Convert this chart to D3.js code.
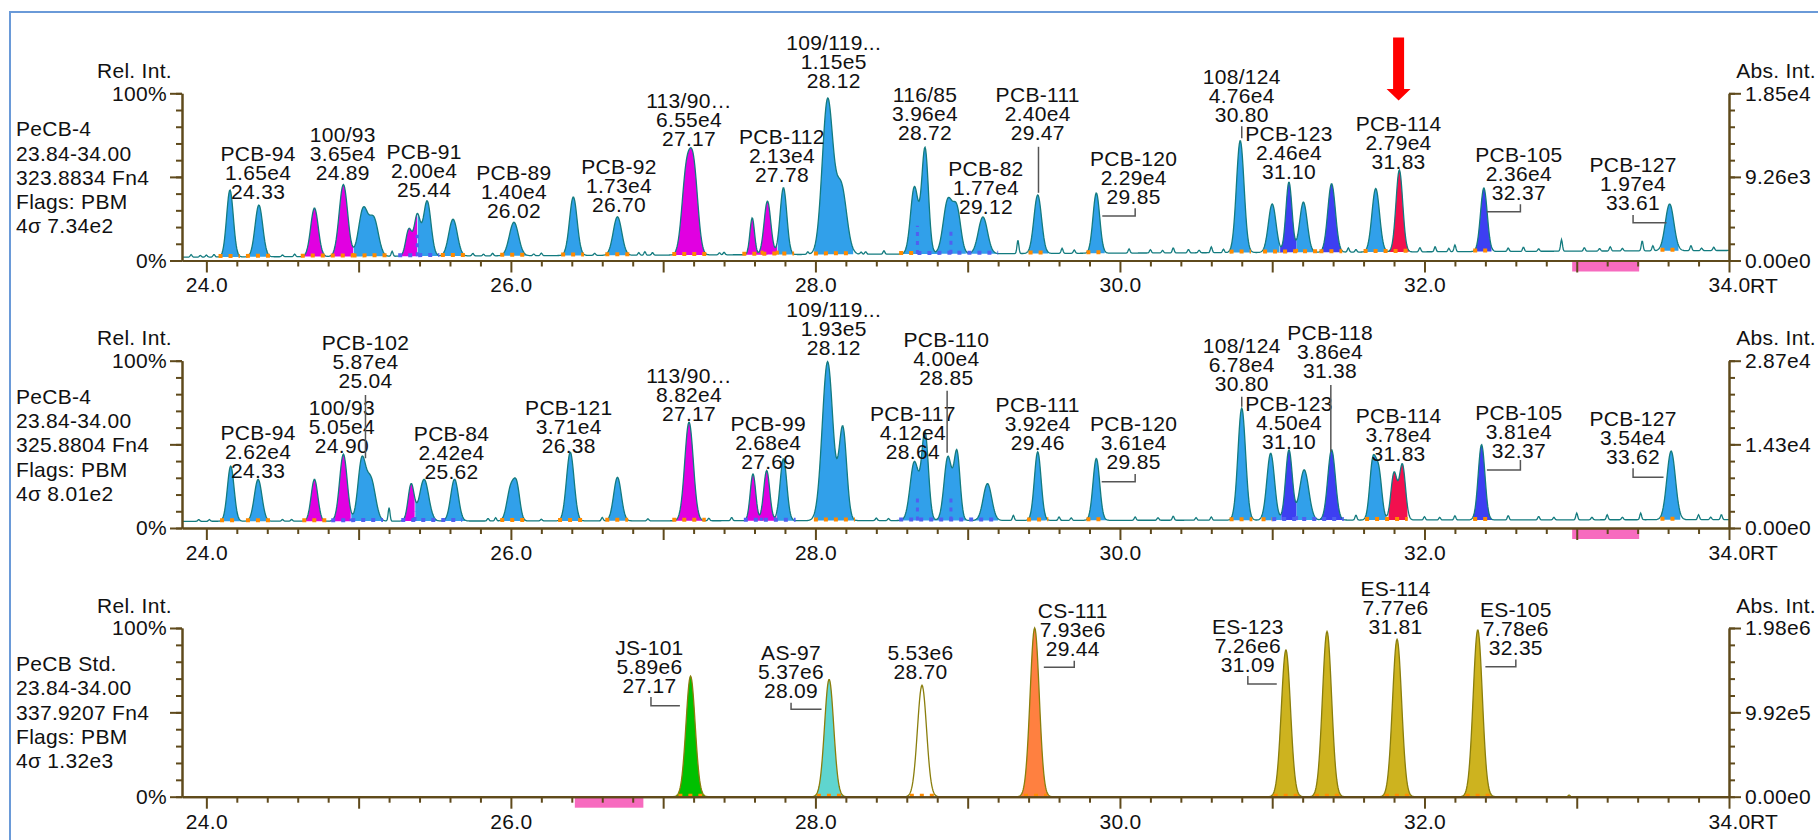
<!DOCTYPE html>
<html>
<head>
<meta charset="utf-8">
<script src="https://cdn.jsdelivr.net/npm/d3@7"></script>
<style>
	body { margin: 0; background: #fff; }
	svg text { font-family: "Liberation Sans", Arial, sans-serif; font-size: 21px; letter-spacing: 0.3px; fill: #111; }
</style>
</head>
<body>
<svg id="chart" width="1818" height="840"></svg>
<script>
// ---- data ----
const rtDomain = [23.84, 34.00];
const xTickLabels = ["24.0", "26.0", "28.0", "30.0", "32.0", "34.0"];
const arrowRt = 31.83;

const info1 = ["PeCB-4", "23.84-34.00", "323.8834 Fn4", "Flags: PBM", "4σ 7.34e2"];
const info2 = ["PeCB-4", "23.84-34.00", "325.8804 Fn4", "Flags: PBM", "4σ 8.01e2"];
const info3 = ["PeCB Std.", "23.84-34.00", "337.9207 Fn4", "Flags: PBM", "4σ 1.32e3"];

const abs1 = ["0.00e0", "9.26e3", "1.85e4"];
const abs2 = ["0.00e0", "1.43e4", "2.87e4"];
const abs3 = ["0.00e0", "9.92e5", "1.98e6"];

// baseline level (%) at start / end of run
const base1 = [2, 6];
const base2 = [4, 5];
const base3 = [0, 0];

// peaks: [rt, height %, width]
const peaks1 = [
	[24.155, 40, 0.022], [24.345, 31, 0.025], [24.71, 29, 0.025], [24.90, 43, 0.028],
	[25.03, 28, 0.03], [25.10, 22, 0.03], [25.33, 16, 0.02], [25.385, 24, 0.02],
	[25.45, 33, 0.025], [25.62, 22, 0.028], [26.02, 20, 0.03], [26.41, 35, 0.025],
	[26.70, 23, 0.028], [27.15, 45, 0.028], [27.20, 50, 0.028], [27.585, 22, 0.015],
	[27.685, 32, 0.022], [27.79, 40, 0.022], [28.08, 92, 0.035], [28.17, 40, 0.035],
	[28.65, 40, 0.025], [28.72, 63, 0.022], [28.87, 32, 0.03], [28.93, 25, 0.025],
	[29.10, 22, 0.03], [29.46, 35, 0.025], [29.845, 36, 0.022], [30.79, 67, 0.025],
	[31.00, 29, 0.025], [31.11, 42, 0.02], [31.205, 30, 0.025], [31.39, 41, 0.025],
	[31.68, 38, 0.025], [31.835, 49, 0.022], [32.39, 38, 0.022], [33.61, 28, 0.028]
];
const peaks2 = [
	[24.16, 33, 0.022], [24.34, 25, 0.025], [24.71, 25, 0.022], [24.90, 40, 0.025],
	[25.02, 35, 0.025], [25.08, 25, 0.03], [25.345, 22, 0.02], [25.43, 25, 0.03],
	[25.63, 25, 0.025], [26.00, 20, 0.025], [26.04, 18, 0.02], [26.39, 41, 0.025],
	[26.70, 26, 0.025], [27.17, 59, 0.028], [27.59, 28, 0.018], [27.68, 30, 0.02],
	[27.79, 37, 0.022], [28.08, 95, 0.035], [28.18, 55, 0.025], [28.65, 35, 0.028],
	[28.72, 52, 0.022], [28.87, 38, 0.025], [28.93, 40, 0.02], [29.13, 22, 0.028],
	[29.46, 41, 0.022], [29.845, 37, 0.022], [30.80, 67, 0.025], [30.99, 40, 0.025],
	[31.11, 42, 0.022], [31.21, 30, 0.03], [31.39, 42, 0.025], [31.66, 34, 0.02],
	[31.70, 28, 0.02], [31.80, 28, 0.02], [31.855, 33, 0.02], [32.375, 45, 0.022],
	[33.62, 41, 0.028]
];
const peaks3 = [
	[27.18, 71.5, 0.03], [28.09, 69.6, 0.03], [28.70, 66, 0.03], [29.44, 100, 0.03],
	[31.09, 87, 0.03], [31.36, 98, 0.03], [31.82, 93.3, 0.03], [32.35, 99, 0.03]
];

// baseline noise spikes: [rt, height %]
const spikes1 = [
	[23.9, 1.5], [23.96, 1], [24.0, 1.2], [24.05, 1.5], [24.5, 1], [24.58, 1.5], [25.22, 3],
	[25.75, 1.5], [25.82, 1], [25.88, 1.5], [26.15, 1], [26.2, 1.5], [26.55, 1.2], [26.84, 1.5],
	[26.88, 2], [26.93, 1.5], [27.37, 1.2], [27.4, 1.5], [27.95, 1.5], [28.3, 1.2], [28.33, 1.5],
	[28.45, 2], [29.33, 8], [29.62, 3], [29.7, 2], [30.06, 2.5], [30.2, 2], [30.28, 1.5],
	[30.35, 3], [30.45, 2], [30.52, 1.5], [30.6, 3.5], [30.68, 2], [31.5, 2.5], [31.55, 1.5],
	[31.97, 2.5], [32.07, 3], [32.16, 2], [32.2, 4], [32.55, 2], [32.65, 2.5], [32.75, 1.5],
	[32.9, 7], [33.05, 2], [33.15, 1.5], [33.22, 2.5], [33.3, 1.5], [33.43, 6], [33.5, 3],
	[33.75, 3], [33.82, 1.5], [33.9, 2]
];
const spikes2 = [
	[23.95, 1], [24.02, 1], [24.5, 1], [24.56, 1], [25.2, 8], [25.85, 1.5], [25.9, 2],
	[26.2, 1], [26.6, 2], [26.9, 1.2], [27.3, 1.5], [27.45, 2], [28.4, 1.5], [28.48, 1.2],
	[29.3, 3], [29.6, 2], [29.68, 1.5], [30.1, 2], [30.25, 1.5], [30.35, 2.5], [30.5, 1.5],
	[30.6, 2], [31.55, 3], [32.0, 2], [32.1, 1.5], [32.2, 2.5], [32.55, 2.5], [32.75, 2],
	[32.85, 1.5], [33.0, 4], [33.1, 1.5], [33.2, 3], [33.3, 1.5], [33.42, 4], [33.8, 3],
	[33.88, 1.5], [33.95, 3]
];
const spikes3 = [[32.95, 1]];

// filled areas: [from, to, colour]
const fills1 = [
	[24.08, 24.22, "b"], [24.26, 24.42, "b"], [24.62, 24.79, "m"], [24.80, 24.965, "m"],
	[24.965, 25.2, "b"], [25.26, 25.385, "m"], [25.385, 25.53, "b"], [25.54, 25.7, "b"],
	[25.93, 26.11, "b"], [26.33, 26.48, "b"], [26.62, 26.78, "b"], [27.06, 27.29, "m"],
	[27.52, 27.75, "m"], [27.75, 27.86, "b"], [27.99, 28.25, "b"], [28.55, 28.99, "b"],
	[28.99, 29.2, "b"], [29.4, 29.53, "b"], [29.78, 29.9, "b"], [30.72, 30.86, "b"],
	[30.94, 31.05, "b"], [31.05, 31.16, "d"], [31.16, 31.28, "b"], [31.31, 31.46, "d"],
	[31.6, 31.76, "b"], [31.76, 31.9, "r"], [32.32, 32.44, "d"], [33.55, 33.67, "b"]
];
const fills2 = [
	[24.09, 24.22, "b"], [24.26, 24.42, "b"], [24.63, 24.79, "m"], [24.80, 24.95, "m"],
	[24.95, 25.18, "b"], [25.27, 25.37, "m"], [25.37, 25.53, "b"], [25.55, 25.7, "b"],
	[25.93, 26.10, "b"], [26.31, 26.47, "b"], [26.62, 26.77, "b"], [27.06, 27.28, "m"],
	[27.53, 27.745, "m"], [27.745, 27.87, "b"], [27.99, 28.26, "b"], [28.54, 28.99, "b"],
	[28.99, 29.2, "b"], [29.39, 29.53, "b"], [29.78, 29.91, "b"], [30.72, 30.87, "b"],
	[30.93, 31.06, "b"], [31.06, 31.16, "d"], [31.16, 31.29, "b"], [31.29, 31.47, "d"],
	[31.61, 31.75, "b"], [31.76, 31.89, "r"], [32.32, 32.45, "d"], [33.55, 33.68, "b"]
];
const fills3 = [
	[27.08, 27.28, "g"], [27.99, 28.19, "c"], [29.34, 29.54, "o"], [30.99, 31.19, "y"],
	[31.26, 31.46, "y"], [31.72, 31.92, "y"], [32.25, 32.45, "y"]
];

// integration marks: [from, to, colour]
const dots1 = [
	[24.08, 24.22, "o"], [24.26, 24.42, "o"], [24.62, 24.96, "o"], [24.96, 25.2, "o"], [25.26, 25.53, "p"],
	[25.54, 25.7, "o"], [25.93, 26.11, "o"], [26.33, 26.48, "o"], [26.62, 26.78, "o"], [27.06, 27.29, "o"],
	[27.52, 27.86, "o"], [27.99, 28.25, "o"], [28.55, 28.67, "o"], [28.67, 29.2, "p"], [29.4, 29.53, "o"],
	[29.78, 29.9, "o"], [30.72, 30.86, "o"], [30.94, 31.3, "o"], [31.31, 31.46, "o"], [31.6, 31.9, "o"],
	[32.32, 32.44, "o"], [33.55, 33.67, "o"]
];
const dots2 = [
	[24.09, 24.22, "o"], [24.26, 24.42, "o"], [24.63, 24.79, "o"], [24.82, 25.16, "p"], [25.28, 25.68, "p"],
	[25.93, 26.1, "o"], [26.31, 26.47, "o"], [26.62, 26.77, "o"], [27.06, 27.28, "o"], [27.53, 27.87, "p"],
	[27.99, 28.26, "o"], [28.55, 29.2, "p"], [29.39, 29.53, "o"], [29.78, 29.91, "o"], [30.72, 30.87, "o"],
	[30.93, 31.0, "o"], [31.0, 31.47, "p"], [31.61, 31.89, "o"], [32.32, 32.45, "o"], [33.55, 33.68, "o"]
];
const dots3 = [
	[27.1, 27.26, "o"], [28.01, 28.17, "o"], [28.62, 28.78, "o"], [29.37, 29.52, "o"],
	[31.01, 31.17, "o"], [31.28, 31.45, "o"], [31.74, 31.9, "o"], [32.27, 32.43, "o"]
];

// split markers: [rt, colour]
const splits1 = [[24.965, "o"], [25.385, "p"], [27.65, "o"], [27.75, "o"], [28.67, "p"], [28.89, "p"], [31.05, "o"], [31.16, "o"]];
const splits2 = [[24.95, "p"], [25.37, "p"], [27.645, "p"], [27.745, "p"], [28.67, "p"], [28.89, "p"], [31.06, "p"], [31.16, "p"]];
const splits3 = [];

// peak labels
const labels1 = [
	["PCB-94", "1.65e4", "24.33"], ["100/93", "3.65e4", "24.89"], ["PCB-91", "2.00e4", "25.44"],
	["PCB-89", "1.40e4", "26.02"], ["PCB-92", "1.73e4", "26.70"], ["113/90…", "6.55e4", "27.17"],
	["PCB-112", "2.13e4", "27.78"], ["109/119...", "1.15e5", "28.12"], ["116/85", "3.96e4", "28.72"],
	["PCB-82", "1.77e4", "29.12"], ["PCB-111", "2.40e4", "29.47"], ["PCB-120", "2.29e4", "29.85"],
	["108/124", "4.76e4", "30.80"], ["PCB-123", "2.46e4", "31.10"], ["PCB-114", "2.79e4", "31.83"],
	["PCB-105", "2.36e4", "32.37"], ["PCB-127", "1.97e4", "33.61"]
];
const labels2 = [
	["PCB-94", "2.62e4", "24.33"], ["100/93", "5.05e4", "24.90"], ["PCB-102", "5.87e4", "25.04"],
	["PCB-84", "2.42e4", "25.62"], ["PCB-121", "3.71e4", "26.38"], ["113/90…", "8.82e4", "27.17"],
	["PCB-99", "2.68e4", "27.69"], ["109/119...", "1.93e5", "28.12"], ["PCB-117", "4.12e4", "28.64"],
	["PCB-110", "4.00e4", "28.85"], ["PCB-111", "3.92e4", "29.46"], ["PCB-120", "3.61e4", "29.85"],
	["108/124", "6.78e4", "30.80"], ["PCB-123", "4.50e4", "31.10"], ["PCB-118", "3.86e4", "31.38"],
	["PCB-114", "3.78e4", "31.83"], ["PCB-105", "3.81e4", "32.37"], ["PCB-127", "3.54e4", "33.62"]
];
const labels3 = [
	["JS-101", "5.89e6", "27.17"], ["AS-97", "5.37e6", "28.09"], ["5.53e6", "28.70"],
	["CS-111", "7.93e6", "29.44"], ["ES-123", "7.26e6", "31.09"], ["ES-114", "7.77e6", "31.81"],
	["ES-105", "7.78e6", "32.35"]
];

// label placement (rt of centre, % level of last line, leader points)
const layout1 = [
	[24.34, 41.1], [24.896, 52.4], [25.43, 42.5], [26.02, 29.7], [26.71, 33.7], [27.17, 73],
	[27.78, 51.6], [28.12, 107.8], [28.72, 76.5], [29.12, 32.5],
	[29.46, 76.5, [[29.465, 68], [29.465, 40.5]]],
	[30.09, 38.5, [[29.884, 26.6], [30.10, 26.6], [30.10, 31.3]]],
	[30.80, 87.5, [[30.80, 80.3], [30.80, 73.1]]],
	[31.11, 53], [31.83, 59.4],
	[32.62, 40.7, [[32.41, 29.1], [32.63, 29.1], [32.63, 33.7]]],
	[33.37, 34.7, [[33.37, 27.2], [33.37, 22.6], [33.59, 22.6]]]
];
const layout2 = [
	[24.34, 34.2], [24.89, 49.6],
	[25.045, 88, [[25.045, 79.5], [25.045, 41.7]]],
	[25.61, 34.1], [26.38, 49.6], [27.17, 68.6], [27.69, 40], [28.12, 108], [28.64, 46],
	[28.86, 90.1, [[28.865, 82.1], [28.865, 45]]],
	[29.46, 51],
	[30.09, 39.6, [[29.88, 27.7], [30.10, 27.7], [30.10, 32.3]]],
	[30.80, 86.5, [[30.80, 78.5], [30.80, 72.5]]],
	[31.11, 52],
	[31.38, 94.4, [[31.385, 85.5], [31.385, 45.6]]],
	[31.83, 44.6],
	[32.62, 46.6, [[32.41, 34.7], [32.63, 34.7], [32.63, 40.6]]],
	[33.37, 42.6, [[33.37, 35.7], [33.37, 30.3], [33.57, 30.3]]]
];
const layout3 = [
	[26.91, 65.8, [[26.92, 59.1], [26.92, 53.9], [27.11, 53.9]]],
	[27.84, 63.2, [[27.84, 55.7], [27.84, 51.8], [28.04, 51.8]]],
	[28.69, 74.5],
	[29.69, 88, [[29.50, 76.7], [29.70, 76.7], [29.70, 80.6]]],
	[30.84, 78.5, [[30.84, 71.5], [30.84, 66.8], [31.03, 66.8]]],
	[31.81, 101],
	[32.60, 88.6, [[32.40, 77.1], [32.60, 77.1], [32.60, 81.4]]]
];

// pink excluded ranges
const bar1 = [32.97, 33.41];
const bar2 = [32.97, 33.41];
const bar3 = [26.42, 26.87];

// ---- drawing ----
const colors = {
	b: "#31a0ea", d: "#3d3ff2", m: "#e100e1", r: "#f2104e",
	g: "#00c000", c: "#5fd5cf", o: "#ff8040", y: "#cdb31f"
};
const dotColors = { o: "#ff8a00", p: "#5060f0" };
const axisColor = "#5f4a1c";

const panels = [
	{ info: info1, abs: abs1, base: base1, peaks: peaks1, spikes: spikes1, fills: fills1, dots: dots1, splits: splits1, labels: labels1, layout: layout1, bar: bar1, top: 93.3, bottom: 260.5, line: "#137b7f" },
	{ info: info2, abs: abs2, base: base2, peaks: peaks2, spikes: spikes2, fills: fills2, dots: dots2, splits: splits2, labels: labels2, layout: layout2, bar: bar2, top: 360.7, bottom: 528, line: "#137b7f" },
	{ info: info3, abs: abs3, base: base3, peaks: peaks3, spikes: spikes3, fills: fills3, dots: dots3, splits: splits3, labels: labels3, layout: layout3, bar: bar3, top: 628, bottom: 796.7, line: "#8a7e0c" }
];

const svg = d3.select("#chart");

// outer frame
svg.append("path")
	.attr("d", "M10,842 L10,12 L1820,12")
	.attr("fill", "none").attr("stroke", "#6a9ad8").attr("stroke-width", 2);

const x = d3.scaleLinear().domain(rtDomain).range([182, 1729]);
const samples = d3.range(rtDomain[0], rtDomain[1] + 0.0001, 0.004);

panels.forEach(p => {
	const y = d3.scaleLinear().domain([0, 100]).range([p.bottom, p.top]);
	const g = svg.append("g");

	const baseAt = rt => p.base[0] + (p.base[1] - p.base[0]) * (rt - rtDomain[0]) / (rtDomain[1] - rtDomain[0]);
	const valueAt = rt => {
		let v = baseAt(rt);
		p.peaks.forEach(([c, h, w]) => { v += h * Math.exp(-0.5 * ((rt - c) / w) ** 2); });
		p.spikes.forEach(([c, h]) => { v += h * Math.exp(-0.5 * ((rt - c) / 0.006) ** 2); });
		return v;
	};

	// filled peaks
	const area = d3.area().x(d => x(d)).y0(d => y(baseAt(d))).y1(d => y(valueAt(d)));
	p.fills.forEach(([a, b, k]) => {
		const pts = samples.filter(t => t >= a && t <= b);
		g.append("path").attr("d", area(pts)).attr("fill", colors[k]);
	});

	// trace
	const line = d3.line().x(d => x(d)).y(d => y(valueAt(d)));
	g.append("path").attr("d", line(samples))
		.attr("fill", "none").attr("stroke", p.line).attr("stroke-width", 1.3);

	// split markers
	p.splits.forEach(([t, k]) => {
		g.append("line")
			.attr("x1", x(t)).attr("x2", x(t))
			.attr("y1", y(baseAt(t))).attr("y2", y(valueAt(t) * 0.55))
			.attr("stroke", dotColors[k]).attr("stroke-width", 3).attr("stroke-dasharray", "4 5");
	});

	// integration marks
	p.dots.forEach(([a, b, k]) => {
		g.append("line")
			.attr("x1", x(a)).attr("x2", x(b))
			.attr("y1", y(baseAt(a)) - 1).attr("y2", y(baseAt(b)) - 1)
			.attr("stroke", dotColors[k]).attr("stroke-width", 4).attr("stroke-dasharray", "4 6");
	});

	// excluded range
	g.append("rect")
		.attr("x", x(p.bar[0])).attr("width", x(p.bar[1]) - x(p.bar[0]))
		.attr("y", p.bottom).attr("height", 11).attr("fill", "#f76bbf");

	// x axis
	const minor = d3.range(24, 34.001, 0.2).filter(t => Math.abs(t - Math.round(t)) > 0.01);
	const major = d3.range(24, 35, 1);
	const xAx = g.append("g").attr("transform", `translate(0,${p.bottom})`);
	xAx.append("g").call(d3.axisBottom(x).tickValues(minor).tickSize(6).tickFormat("").tickSizeOuter(0));
	xAx.append("g").call(d3.axisBottom(x).tickValues(major).tickSize(12).tickSizeOuter(0)
		.tickFormat(d => (d % 2 === 0 ? xTickLabels[(d - 24) / 2] : "")));
	xAx.selectAll("text").attr("y", 12).attr("dy", "0.95em");
	xAx.append("text").attr("x", 1750).attr("y", 24.5).attr("dy", "0.36em").text("RT");

	// left axis
	const lAx = g.append("g").attr("transform", "translate(182,0)");
	lAx.append("g").call(d3.axisLeft(y).tickValues(d3.range(0, 101, 10)).tickSize(6).tickFormat("").tickSizeOuter(0));
	lAx.append("g").call(d3.axisLeft(y).tickValues([0, 50, 100]).tickSize(12).tickPadding(3).tickSizeOuter(0)
		.tickFormat(d => (d === 50 ? "" : d + "%")));
	lAx.append("text").attr("x", -10).attr("y", y(100) - 23).attr("dy", "0.36em")
		.attr("text-anchor", "end").text("Rel. Int.");

	// right axis
	const rAx = g.append("g").attr("transform", "translate(1729,0)");
	rAx.append("g").call(d3.axisRight(y).tickValues(d3.range(0, 101, 10)).tickSize(6).tickFormat("").tickSizeOuter(0));
	rAx.append("g").call(d3.axisRight(y).tickValues([0, 50, 100]).tickSize(12).tickPadding(4).tickSizeOuter(0)
		.tickFormat(d => p.abs[d / 50]));
	rAx.append("text").attr("x", 87).attr("y", y(100) - 23).attr("dy", "0.36em")
		.attr("text-anchor", "end").text("Abs. Int.");

	g.selectAll(".domain, .tick line").attr("stroke", axisColor).attr("stroke-width", 2);
	g.selectAll(".tick text").attr("fill", "#111").style("font-size", "21px")
		.style("font-family", "\"Liberation Sans\", Arial, sans-serif");

	// trace info block
	g.append("text").selectAll("tspan").data(p.info).join("tspan")
		.attr("x", 16).attr("y", (d, i) => p.top + 35.5 + i * 24.25).attr("dy", "0.36em").text(d => d);

	// peak labels
	p.labels.forEach((lines, i) => {
		const [rt, lvl, leader] = p.layout[i];
		const lastY = y(lvl);
		g.append("text").attr("text-anchor", "middle")
			.selectAll("tspan").data(lines).join("tspan")
			.attr("x", x(rt)).attr("y", (d, j) => lastY - (lines.length - 1 - j) * 19)
			.attr("dy", "0.36em").text(d => d);
		if (leader) {
			g.append("path")
				.attr("d", d3.line().x(d => x(d[0])).y(d => y(d[1]))(leader))
				.attr("fill", "none").attr("stroke", "#555").attr("stroke-width", 1.5);
		}
	});
});

// red arrow over the target peak
const ax = x(arrowRt);
svg.append("path")
	.attr("d", `M${ax - 5.5},37.5 L${ax + 5.5},37.5 L${ax + 5.5},89 L${ax + 12},89 L${ax},100.5 L${ax - 12},89 L${ax - 5.5},89 Z`)
	.attr("fill", "#ff0000");
</script>
</body>
</html>
